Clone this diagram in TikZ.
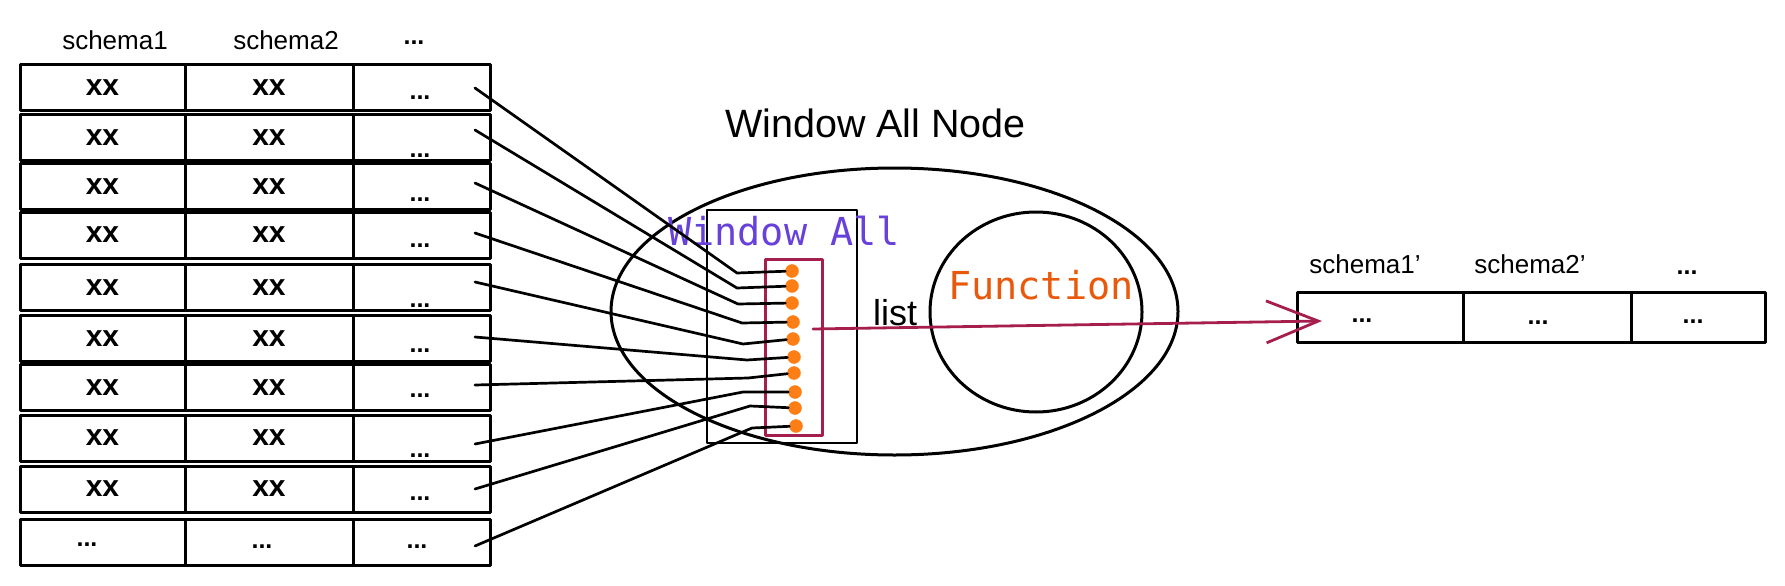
\documentclass[tikz,border=0pt]{standalone}
\usepackage{fontspec}
\usepackage{xcolor}
\usepackage{tikz}
\usetikzlibrary{arrows.meta, positioning, shapes.geometric}
\setmainfont{Liberation Sans}
\newfontfamily\monofont{DejaVu Sans Mono}

\definecolor{wpurple}{HTML}{6741D9}
\definecolor{fnorange}{HTML}{E8590C}
\definecolor{dotorange}{HTML}{FD7E14}
\definecolor{listred}{HTML}{A61E4D}

\begin{document}
\begin{tikzpicture}[x=1pt, y=-1pt,
    line join=round, line cap=round,
    cell/.style={draw, line width=3pt, inner sep=0pt, minimum height=46pt,
        font=\fontsize{30}{30}\selectfont\bfseries},
    rcell/.style={draw, line width=3pt, inner sep=0pt, minimum height=50pt},
    dots/.style={inner sep=0pt, font=\fontsize{25}{25}\selectfont\bfseries},
    head/.style={inner sep=0pt, anchor=base, font=\fontsize{26}{26}\selectfont},
    wire/.style={line width=2.7pt},
    pin/.style={circle, fill=dotorange, draw=dotorange, minimum size=13pt, inner sep=0pt},
    code/.style={inner sep=0pt, anchor=base west, font=\fontsize{38.5}{38.5}\monofont}]
    \useasboundingbox (0,0) rectangle (1785,586);

    % 输入表
    \node[head] (h1) at (115,50) {schema1};
    \node[head] (h2) at (286,50) {schema2};
    \node[dots] (h3) at (414,43) {...};
    \foreach \i/\y/\dy in {1/87.5/10, 2/137.5/18, 3/186.5/13, 4/235/11, 5/287.5/18,
                           6/338.5/12, 7/387.5/8, 8/438/18, 9/489/10} {
        \node[cell, minimum width=165pt] (a\i) at (102.5,\y) {xx};
        \node[cell, minimum width=168pt] (b\i) at (269,\y) {xx};
        \node[cell, minimum width=137pt] (c\i) at (421.5,\y) {};
        \node[dots] (d\i) at (420,{\y+\dy}) {...};
    }
    \node[cell, minimum width=165pt] (a10) at (102.5,542) {};
    \node[cell, minimum width=168pt] (b10) at (269,542) {};
    \node[cell, minimum width=137pt] (c10) at (421.5,542) {};
    \node[dots] (d10a) at (87,545) {...};
    \node[dots] (d10b) at (262,547) {...};
    \node[dots] (d10c) at (417,547) {...};

    % Window All Node
    \node[inner sep=0pt, anchor=base west, font=\fontsize{39.5}{39.5}\selectfont] (title) at (725,137) {Window All Node};
    \node[draw, ellipse, line width=3pt, minimum width=567pt, minimum height=287pt] (wan) at (894.5,311.5) {};
    \node[draw, ellipse, line width=3pt, minimum width=212pt, minimum height=200pt] (fn) at (1036,312) {};
    \node[draw, line width=2.7pt, minimum width=150pt, minimum height=233pt, inner sep=0pt] (win) at (782,326.5) {};
    \node[draw=listred, line width=3pt, minimum width=57pt, minimum height=176pt, inner sep=0pt] (buf) at (793.5,347) {};
    \node[code, text=wpurple] (winlabel) at (668,245) {Window All};
    \node[code, text=fnorange] (fnlabel) at (948,299) {Function};
    \node[inner sep=0pt, anchor=base west, font=\fontsize{36}{36}\selectfont] (lst) at (873,325) {list};

    % 每行 -> 一个点
    \foreach \i/\sy/\kx/\ky/\px/\py in {1/88/737/273/792/271, 2/130/737/288/792/286,
        3/183/738/304/792/303, 4/233/742/323/793/322, 5/282/743/344/793/339,
        6/337/747/360/794/357, 7/385/748/378/794/373, 8/444/743/392/795/392,
        9/489/750/406/795/408, 10/546/752/428/796/426} {
        \coordinate (s\i) at (475,\sy);
        \coordinate (k\i) at (\kx,\ky);
        \node[pin] (p\i) at (\px,\py) {};
        \draw[wire] (s\i) -- (k\i) -- (p\i);
    }

    % 输出表
    \node[head] (o1) at (1365,273) {schema1'};
    \node[head] (o2) at (1530,273) {schema2'};
    \node[dots] (o3) at (1687,273) {...};
    \node[rcell, minimum width=166pt] (r1) at (1380,317) {};
    \node[rcell, minimum width=168pt] (r2) at (1547,317) {};
    \node[rcell, minimum width=134pt] (r3) at (1698,317) {};
    \node[dots] (e1) at (1362,321) {...};
    \node[dots] (e2) at (1538,323) {...};
    \node[dots] (e3) at (1693,322) {...};

    % list -> 输出
    \coordinate (from) at (813,329);
    \coordinate (tip) at (1322,321);
    \draw[listred, line width=2.8pt, -{Straight Barb[length=52pt, width=42pt]}] (from) -- (tip);
\end{tikzpicture}
\end{document}
